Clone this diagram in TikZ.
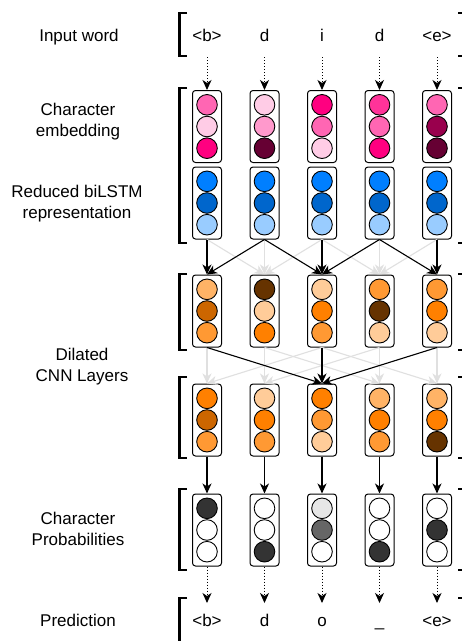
\documentclass[tikz,border=0pt]{standalone}
\usepackage{fontspec}
\setmainfont{Liberation Sans}
\usetikzlibrary{arrows.meta}
\definecolor{pkA}{HTML}{FF66B3}
\definecolor{pkB}{HTML}{FFCCE6}
\definecolor{pkC}{HTML}{FF0080}
\definecolor{pkD}{HTML}{FF99CC}
\definecolor{pkE}{HTML}{660033}
\definecolor{pkF}{HTML}{FF3399}
\definecolor{pkG}{HTML}{99004D}
\definecolor{blA}{HTML}{007FFF}
\definecolor{blB}{HTML}{0066CC}
\definecolor{blC}{HTML}{99CCFF}
\definecolor{orA}{HTML}{FFB366}
\definecolor{orB}{HTML}{CC6600}
\definecolor{orC}{HTML}{FF9933}
\definecolor{orD}{HTML}{663300}
\definecolor{orE}{HTML}{FFCC99}
\definecolor{orF}{HTML}{FF8000}
\definecolor{gyA}{HTML}{333333}
\definecolor{gyB}{HTML}{E6E6E6}
\definecolor{gyC}{HTML}{666666}
\definecolor{lightline}{HTML}{E0E0E0}
\newcommand\mkcol[6]{%
  \node[box] (#1) at (#2,#3) {};
  \node[dot, fill=#4] (#1a) at (#2,#3-21.7) {};
  \node[dot, fill=#5] (#1b) at (#2,#3) {};
  \node[dot, fill=#6] (#1c) at (#2,#3+21.7) {};
}
\begin{document}
\begin{tikzpicture}[x=1pt,y=-1pt,
  box/.style={draw, line width=1pt, rounded corners=3pt, minimum width=29pt, minimum height=72pt, inner sep=0pt},
  dot/.style={circle, draw, line width=0.9pt, minimum size=20.6pt, inner sep=0pt},
  lbl/.style={font=\fontsize{17}{21}\selectfont, align=center, inner sep=0pt},
  blk/.style={-{Stealth[length=10pt,width=9pt,inset=3pt]}, line width=1.1pt},
  gry/.style={blk, draw=lightline},
  dotarr/.style={-{Stealth[length=10pt,width=9pt,inset=3pt]}, dotted, line width=1pt},
  brk/.style={line width=2.4pt, line cap=butt, line join=miter}]
\useasboundingbox (0,0) rectangle (462,641);
\clip (0,0) rectangle (462,641);
\fill[white] (0,0) rectangle (462,641);

% row labels
\node[lbl, anchor=base] (tin) at (79,41.5) {Input word};
\node[lbl] (temb) at (78,122) {Character\\embedding};
\node[lbl] (tlstm) at (77,204) {Reduced biLSTM\\representation};
\node[lbl] (tcnn) at (82,367) {Dilated\\ CNN Layers};
\node[lbl] (tprob) at (78,529) {Character\\Probabilities};
\node[lbl, anchor=base] (tpred) at (78,626) {Prediction};

% brackets (left) and cut-off brackets (right)
\foreach \ya/\yb in {13/56, 88/243, 274/350, 377/458, 489/570, 598/660}{
  \draw[brk] (187,\ya) -- (179.5,\ya) -- (179.5,\yb) -- (187,\yb);
  \draw[brk] (458,\ya) -- (470,\ya) -- (470,\yb) -- (458,\yb);
}

% columns
\mkcol{e1}{207}{126.5}{pkA}{pkB}{pkC}
\mkcol{e2}{264.5}{126.5}{pkB}{pkD}{pkE}
\mkcol{e3}{322}{126.5}{pkC}{pkA}{pkB}
\mkcol{e4}{379.5}{126.5}{pkF}{pkA}{pkC}
\mkcol{e5}{437}{126.5}{pkA}{pkG}{pkE}

\mkcol{l1}{207}{203}{blA}{blB}{blC}
\mkcol{l2}{264.5}{203}{blA}{blB}{blC}
\mkcol{l3}{322}{203}{blA}{blB}{blC}
\mkcol{l4}{379.5}{203}{blA}{blB}{blC}
\mkcol{l5}{437}{203}{blA}{blB}{blC}

\mkcol{a1}{207}{311}{orA}{orB}{orC}
\mkcol{a2}{264.5}{311}{orD}{orE}{orF}
\mkcol{a3}{322}{311}{orE}{orF}{orC}
\mkcol{a4}{379.5}{311}{orC}{orD}{orE}
\mkcol{a5}{437}{311}{orC}{orF}{orE}

\mkcol{b1}{207}{420}{orF}{orB}{orC}
\mkcol{b2}{264.5}{420}{orE}{orF}{orC}
\mkcol{b3}{322}{420}{orF}{orC}{orE}
\mkcol{b4}{379.5}{420}{orA}{orF}{orC}
\mkcol{b5}{437}{420}{orA}{orF}{orD}

\mkcol{p1}{207}{530}{gyA}{white}{white}
\mkcol{p2}{264.5}{530}{white}{white}{gyA}
\mkcol{p3}{322}{530}{gyB}{gyC}{white}
\mkcol{p4}{379.5}{530}{white}{white}{gyA}
\mkcol{p5}{437}{530}{white}{gyA}{white}

% input / output labels
\node[lbl, anchor=base] (i1) at (207,41.5) {<b>};
\node[lbl, anchor=base] (i2) at (264.5,41.5) {d};
\node[lbl, anchor=base] (i3) at (322,41.5) {i};
\node[lbl, anchor=base] (i4) at (379.5,41.5) {d};
\node[lbl, anchor=base] (i5) at (437,41.5) {<e>};
\node[lbl, anchor=base] (o1) at (207,626) {<b>};
\node[lbl, anchor=base] (o2) at (264.5,626) {d};
\node[lbl, anchor=base] (o3) at (322,626) {o};
\node[lbl, anchor=base] (o4) at (379.5,626) {\_};
\node[lbl, anchor=base] (o5) at (437,626) {<e>};

% dotted arrows and straight arrows to probabilities
\foreach \c/\x in {1/207, 2/264.5, 3/322, 4/379.5, 5/437}{
  \coordinate (s\c) at (\x,57);
  \coordinate (t\c) at (\x,603);
  \draw[dotarr] (s\c) -- (e\c.north);
  \draw[dotarr] (p\c.south) -- (t\c);
  \draw[blk] (b\c.south) -- (p\c.north);
}

% layer 1 (dilation 1) gray
\draw[gry] (l1.south) -- (a2.north);
\draw[gry] (l2.south) -- (a2.north);
\draw[gry] (l3.south) -- (a2.north);
\draw[gry] (l3.south) -- (a4.north);
\draw[gry] (l4.south) -- (a4.north);
\draw[gry] (l5.south) -- (a4.north);
% layer 1 black
\draw[blk] (l1.south) -- (a1.north);
\draw[blk] (l2.south) -- (a1.north);
\draw[blk] (l2.south) -- (a3.north);
\draw[blk] (l3.south) -- (a3.north);
\draw[blk] (l4.south) -- (a3.north);
\draw[blk] (l4.south) -- (a5.north);
\draw[blk] (l5.south) -- (a5.north);

% layer 2 (dilation 2) gray
\draw[gry] (a1.south) -- (b1.north);
\draw[gry] (a2.south) -- (b2.north);
\draw[gry] (a4.south) -- (b4.north);
\draw[gry] (a5.south) -- (b5.north);
\draw[gry] (a2.south) -- (b4.north);
\draw[gry] (a4.south) -- (b2.north);
\draw[gry] (a3.south) -- (b1.north);
\draw[gry] (a3.south) -- (b5.north);
% layer 2 black
\draw[blk] (a1.south) -- (b3.north);
\draw[blk] (a3.south) -- (b3.north);
\draw[blk] (a5.south) -- (b3.north);
\end{tikzpicture}
\end{document}
